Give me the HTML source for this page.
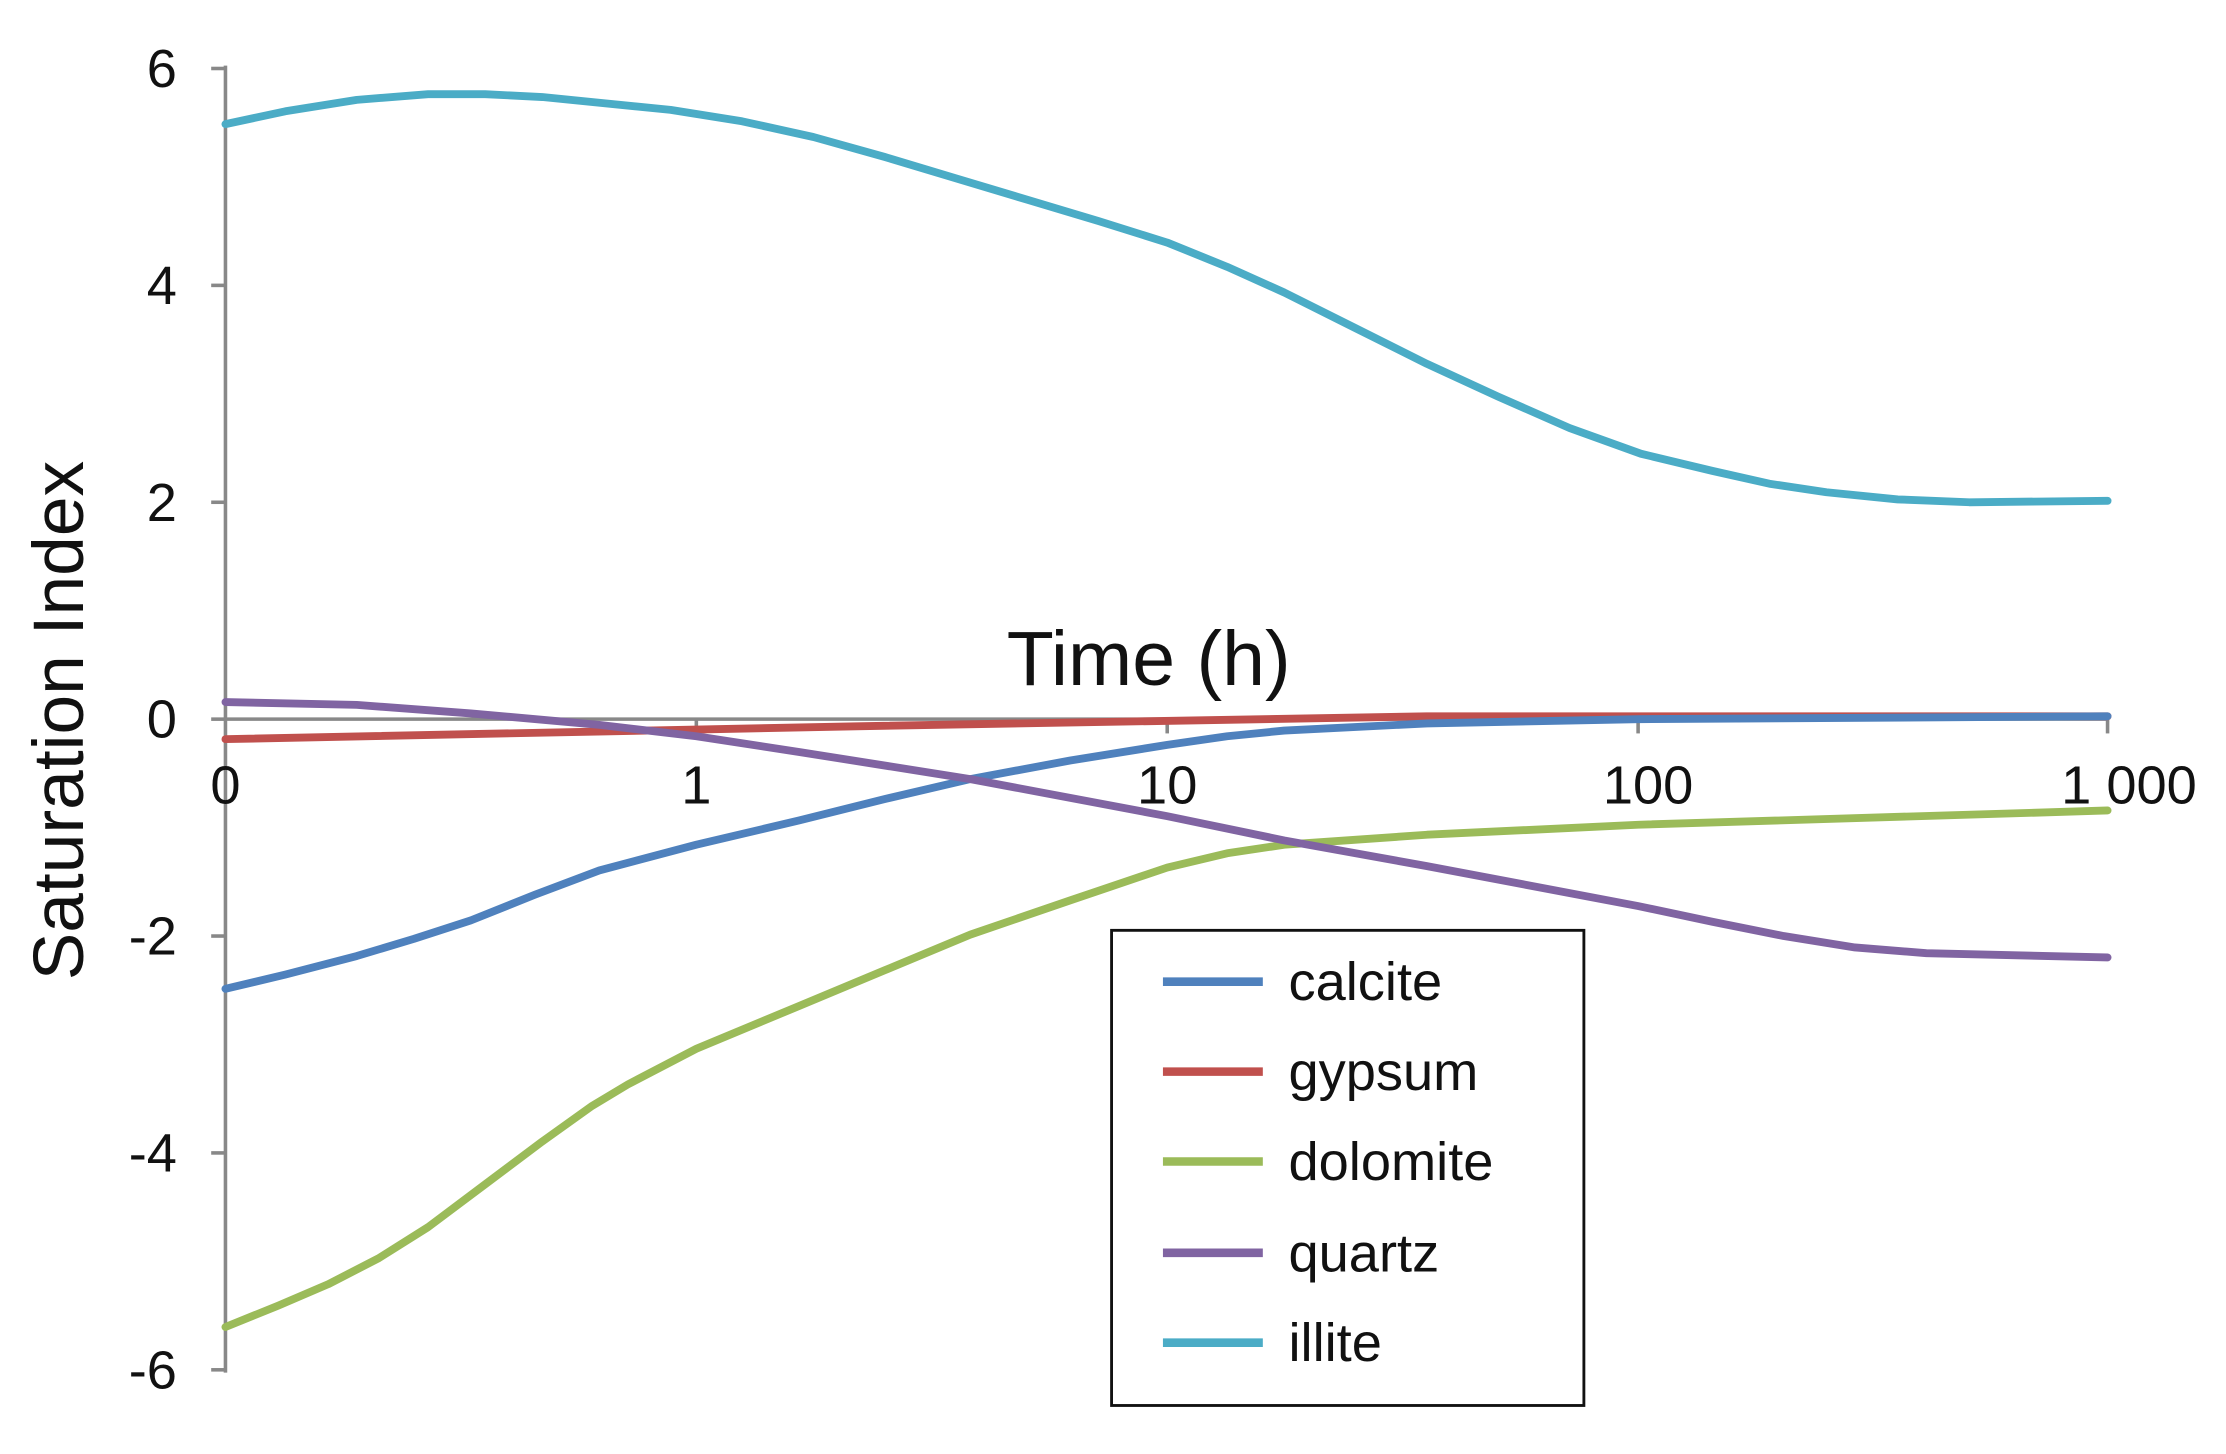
<!DOCTYPE html>
<html><head><meta charset="utf-8"><style>html,body{margin:0;padding:0;background:#fff}svg{display:block}</style></head>
<body>
<svg width="2226" height="1454" viewBox="0 0 1560 1019" preserveAspectRatio="none" xmlns="http://www.w3.org/2000/svg" font-family="Liberation Sans, sans-serif">
<rect width="1560" height="1019" fill="#fff"/>
<g stroke="#888" stroke-width="2.5" fill="none">
<line x1="158" y1="46" x2="158" y2="962"/>
<line x1="158" y1="504" x2="1477" y2="504"/>
<line x1="148" y1="48" x2="158" y2="48"/><line x1="148" y1="200" x2="158" y2="200"/><line x1="148" y1="352" x2="158" y2="352"/><line x1="148" y1="504" x2="158" y2="504"/><line x1="148" y1="656" x2="158" y2="656"/><line x1="148" y1="808" x2="158" y2="808"/><line x1="148" y1="960" x2="158" y2="960"/>
<line x1="488" y1="504" x2="488" y2="514"/><line x1="818" y1="504" x2="818" y2="514"/><line x1="1148" y1="504" x2="1148" y2="514"/><line x1="1477" y1="504" x2="1477" y2="514"/>
</g>
<g font-size="38" fill="#111" text-anchor="end">
<text x="124" y="61">6</text><text x="124" y="213">4</text><text x="124" y="365">2</text><text x="124" y="517">0</text><text x="124" y="669">-2</text><text x="124" y="821">-4</text><text x="124" y="973">-6</text>
</g>
<g font-size="38" fill="#111" text-anchor="middle">
<text x="158" y="563">0</text><text x="488" y="563">1</text><text x="818" y="563">10</text><text x="1155" y="563">100</text><text x="1492" y="563">1 000</text>
</g>
<text x="805" y="480" font-size="54" text-anchor="middle" fill="#111">Time (h)</text>
<text transform="translate(58,505) rotate(-90)" font-size="50" text-anchor="middle" fill="#111">Saturation Index</text>
<g fill="none" stroke-width="5.5" stroke-linejoin="round" stroke-linecap="round">
<polyline stroke="#4bacc6" points="158,87 200,78 250,70 300,66 340,66 380,68 420,72 470,77 520,85 570,96 620,110 670,125 720,140 770,155 818,170 860,187 900,205 950,230 1000,255 1050,278 1100,300 1150,318 1200,330 1240,339 1280,345 1330,350 1380,352 1477,351"/>
<polyline stroke="#c0504d" points="158,518 600,509 1000,502 1477,502"/>
<polyline stroke="#4f81bd" points="158,693 200,683 250,670 290,658 330,645 375,627 420,610 488,592 560,575 620,560 680,546 750,533 818,522 860,516 900,512 1000,507 1148,504 1477,502"/>
<polyline stroke="#9bbb59" points="158,930 195,915 230,900 265,882 300,860 340,830 380,800 415,775 440,760 488,735 560,705 620,680 680,655 750,631 818,608 860,598 900,592 1000,585 1148,578 1477,568"/>
<polyline stroke="#8064a2" points="158,492 250,494 330,500 420,508 488,516 560,527 680,546 818,572 900,589 1000,607 1148,635 1200,646 1250,656 1300,664 1350,668 1477,671"/>
</g>
<rect x="779" y="652" width="331" height="333" fill="#fff" stroke="#111" stroke-width="2"/>
<g stroke-width="6">
<line x1="815" y1="688" x2="885" y2="688" stroke="#4f81bd"/>
<line x1="815" y1="751" x2="885" y2="751" stroke="#c0504d"/>
<line x1="815" y1="814" x2="885" y2="814" stroke="#9bbb59"/>
<line x1="815" y1="878" x2="885" y2="878" stroke="#8064a2"/>
<line x1="815" y1="941" x2="885" y2="941" stroke="#4bacc6"/>
</g>
<g font-size="38" fill="#111">
<text x="903" y="701">calcite</text><text x="903" y="764">gypsum</text><text x="903" y="827">dolomite</text><text x="903" y="891">quartz</text><text x="903" y="954">illite</text>
</g>
</svg>
</body></html>
